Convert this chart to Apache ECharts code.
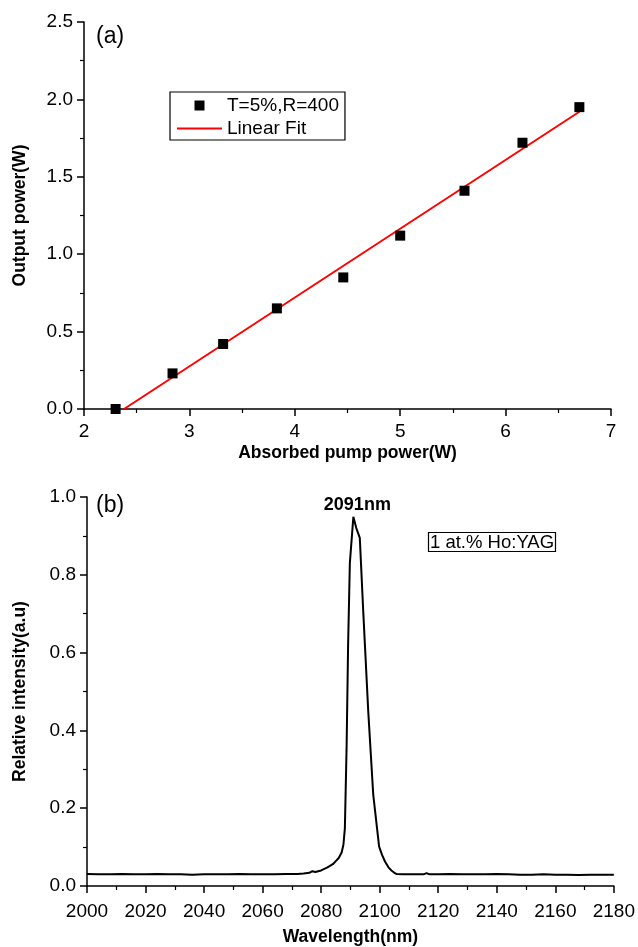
<!DOCTYPE html>
<html>
<head>
<meta charset="utf-8">
<script src="https://cdn.jsdelivr.net/npm/echarts@6/dist/echarts.min.js"></script>
<style>
  html, body { margin: 0; padding: 0; background: #fff; }
  #chart { width: 638px; height: 947px; }
</style>
</head>
<body>
<div id="chart"></div>
<script>
// (a) output power vs absorbed pump power
const pumpPower = [2.30, 2.84, 3.32, 3.83, 4.46, 5.00, 5.61, 6.16, 6.70];
const outputPower = [0.00, 0.23, 0.42, 0.65, 0.85, 1.12, 1.41, 1.72, 1.95];
const fitX = [2.38, 6.70];
const fitY = [0.00, 1.92];

// (b) laser spectrum
const wavelength = [2000, 2004, 2008, 2012, 2016, 2020, 2024, 2028, 2032, 2036,
  2040, 2044, 2048, 2052, 2056, 2060, 2064, 2068, 2072, 2074,
  2076, 2077, 2078, 2080, 2082, 2084, 2085, 2086, 2087, 2087.6,
  2088.1, 2088.7, 2089.2, 2089.8, 2091, 2092, 2093.2, 2094.4, 2096.1, 2097.8,
  2099.8, 2100.8, 2101.8, 2103, 2104, 2105, 2105.7, 2108, 2112, 2115,
  2116, 2117, 2120, 2124, 2128, 2132, 2136, 2140, 2144, 2148,
  2152, 2156, 2160, 2164, 2168, 2172, 2176, 2180];
const intensity = [0.031, 0.030, 0.030, 0.031, 0.030, 0.030, 0.031, 0.030, 0.030, 0.029,
  0.030, 0.030, 0.030, 0.031, 0.030, 0.030, 0.030, 0.031, 0.031, 0.032,
  0.034, 0.038, 0.036, 0.040, 0.047, 0.056, 0.064, 0.072, 0.086, 0.106,
  0.148, 0.361, 0.617, 0.830, 0.949, 0.920, 0.895, 0.702, 0.447, 0.234,
  0.101, 0.080, 0.063, 0.048, 0.040, 0.034, 0.031, 0.030, 0.030, 0.030,
  0.033, 0.030, 0.030, 0.031, 0.030, 0.030, 0.030, 0.031, 0.030, 0.029,
  0.029, 0.030, 0.029, 0.029, 0.028, 0.029, 0.029, 0.029];

const font = 'Liberation Sans, Arial, sans-serif';
const axisLine = { show: true, onZero: false, lineStyle: { color: '#000', width: 1.5 } };
const axisTick = { show: true, inside: false, length: 7, lineStyle: { color: '#000', width: 1.5 } };
const minorTick = { show: true, splitNumber: 2, length: 4, lineStyle: { color: '#000', width: 1.2 } };
const tickLabel = { color: '#000', fontSize: 19, fontFamily: font };
const titleStyle = { color: '#000', fontSize: 17.5, fontWeight: 'bold', fontFamily: font };

const chart = echarts.init(document.getElementById('chart'));

chart.setOption({
  backgroundColor: '#fff',
  animation: false,
  title: [{
    text: '1 at.% Ho:YAG',
    left: 428, top: 532,
    padding: [1, 2, 0, 2],
    borderColor: '#000', borderWidth: 1.2,
    textStyle: { color: '#000', fontSize: 18.5, fontWeight: 'normal', fontFamily: font }
  }],
  graphic: [
    { type: 'text', left: 96, top: 25, style: { text: '(a)', fill: '#000', font: '23px ' + font } },
    { type: 'text', left: 96, top: 494, style: { text: '(b)', fill: '#000', font: '23px ' + font } }
  ],
  legend: {
    left: 170, top: 92,
    orient: 'vertical',
    padding: [4, 6, 2, 6],
    itemGap: 4,
    itemWidth: 45, itemHeight: 10,
    borderColor: '#000', borderWidth: 1.2, borderRadius: 0,
    textStyle: { color: '#000', fontSize: 19, fontFamily: font },
    data: [
      { name: 'T=5%,R=400', icon: 'path://M0,0H10V10H0Z', itemStyle: { color: '#000', opacity: 1 } },
      { name: 'Linear Fit', itemStyle: { opacity: 0 } }
    ]
  },
  grid: [
    { left: 84, top: 22, right: 27, height: 387 },
    { left: 87, top: 497, right: 24, height: 390 }
  ],
  xAxis: [{
    gridIndex: 0, type: 'value', min: 2, max: 7, interval: 1,
    name: 'Absorbed pump power(W)', nameLocation: 'middle', nameGap: 35, nameTextStyle: titleStyle,
    axisLine, axisTick, minorTick, splitLine: { show: false },
    axisLabel: Object.assign({ margin: 13 }, tickLabel)
  }, {
    gridIndex: 1, type: 'value', min: 2000, max: 2180, interval: 20,
    name: 'Wavelength(nm)', nameLocation: 'middle', nameGap: 42, nameTextStyle: titleStyle,
    axisLine, axisTick, minorTick, splitLine: { show: false },
    axisLabel: Object.assign({ margin: 16, formatter: (v) => String(v) }, tickLabel)
  }],
  yAxis: [{
    gridIndex: 0, type: 'value', min: 0, max: 2.5, interval: 0.5,
    name: 'Output power(W)', nameLocation: 'middle', nameGap: 55, nameTextStyle: titleStyle,
    axisLine, axisTick, minorTick, splitLine: { show: false },
    axisLabel: Object.assign({ margin: 11, formatter: (v) => v.toFixed(1) }, tickLabel)
  }, {
    gridIndex: 1, type: 'value', min: 0, max: 1, interval: 0.2,
    name: 'Relative intensity(a.u)', nameLocation: 'middle', nameGap: 58, nameTextStyle: titleStyle,
    axisLine, axisTick, minorTick, splitLine: { show: false },
    axisLabel: Object.assign({ margin: 11, formatter: (v) => v.toFixed(1) }, tickLabel)
  }],
  series: [{
    name: 'T=5%,R=400',
    type: 'scatter',
    xAxisIndex: 0, yAxisIndex: 0,
    symbol: 'rect', symbolSize: 10,
    itemStyle: { color: '#000', opacity: 1 },
    data: pumpPower.map((x, i) => [x, outputPower[i]]),
    z: 3
  }, {
    name: 'Linear Fit',
    type: 'line',
    xAxisIndex: 0, yAxisIndex: 0,
    symbol: 'none',
    lineStyle: { color: '#ff0000', width: 2 },
    itemStyle: { color: '#ff0000' },
    data: fitX.map((x, i) => [x, fitY[i]])
  }, {
    name: 'spectrum',
    type: 'line',
    xAxisIndex: 1, yAxisIndex: 1,
    symbol: 'none',
    lineStyle: { color: '#000', width: 2 },
    data: wavelength.map((x, i) => [x, intensity[i]]),
    markPoint: {
      symbol: 'circle', symbolSize: 0,
      data: [{ type: 'max', valueDim: 'y' }],
      label: {
        show: true, position: 'top', distance: 3, offset: [4, 0],
        color: '#000', fontSize: 18, fontWeight: 'bold', fontFamily: font,
        formatter: (p) => Math.round(p.data.coord[0]) + 'nm'
      }
    }
  }]
});
</script>
</body>
</html>
